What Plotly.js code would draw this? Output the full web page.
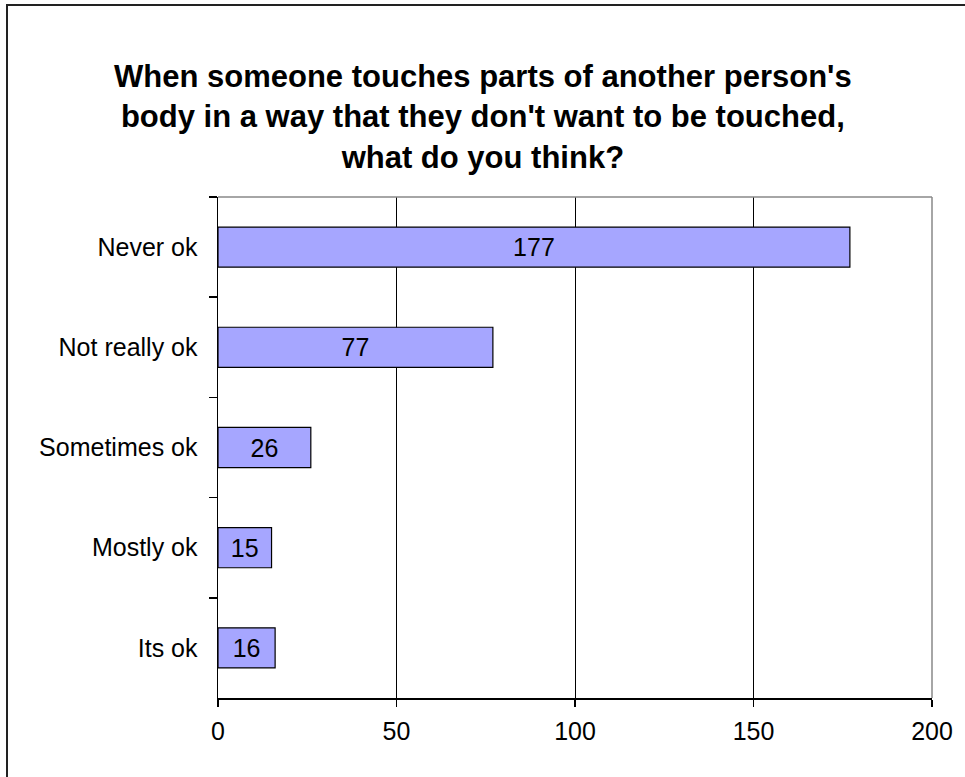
<!DOCTYPE html>
<html>
<head>
<meta charset="utf-8">
<script src="https://cdn.plot.ly/plotly-3.0.1.min.js"></script>
<style>
  html, body { margin: 0; padding: 0; background: #fff; }
  #wrap { position: relative; width: 965px; height: 777px; overflow: hidden; }
  #chart { width: 965px; height: 777px; }
  #frame { position: absolute; left: 6px; top: 4px; width: 1000px; height: 1000px;
           border-left: 2px solid #222; border-top: 2px solid #222; pointer-events: none; }
</style>
</head>
<body>
<div id="wrap">
  <div id="chart"></div>
  <div id="frame"></div>
</div>
<script>
const categories = ["Never ok", "Not really ok", "Sometimes ok", "Mostly ok", "Its ok"];
const counts = [177, 77, 26, 15, 16];
const xTicks = [0, 50, 100, 150, 200];
const titleText = "When someone touches parts of another person's<br>body in a way that they don't want to be touched,<br>what do you think?";

const trace = {
  type: 'bar',
  orientation: 'h',
  y: categories,
  x: counts,
  text: counts.map(String),
  textposition: 'inside',
  insidetextanchor: 'middle',
  constraintext: 'none',
  textfont: { family: 'Liberation Sans, Arial, sans-serif', size: 25, color: '#000' },
  marker: { color: '#a6a6ff', line: { color: '#000', width: 1.2 } },
  hoverinfo: 'none'
};

const layout = {
  width: 965, height: 777,
  margin: { l: 218, r: 33, t: 197, b: 79 },
  paper_bgcolor: '#fff',
  plot_bgcolor: '#fff',
  bargap: 0.6,
  showlegend: false,
  font: { family: 'Liberation Sans, Arial, sans-serif', size: 25, color: '#000' },
  annotations: [{
    text: titleText,
    showarrow: false,
    xref: 'paper', yref: 'paper',
    x: (482.5 - 218) / 714, xanchor: 'center',
    y: (698 - 117) / 501, yanchor: 'middle',
    align: 'center',
    font: { family: 'Liberation Sans, Arial, sans-serif', size: 31, color: '#000', weight: 'bold' }
  }],
  xaxis: {
    range: [0, 200],
    tickvals: xTicks,
    ticktext: xTicks.map(String),
    showgrid: true, gridcolor: '#000', gridwidth: 1,
    zeroline: false,
    showline: true, linecolor: '#000', linewidth: 1.5,
    ticks: 'outside', ticklen: 7, tickcolor: '#000', tickwidth: 1.5,
    tickfont: { size: 25 },
    ticklabelstandoff: 3,
    fixedrange: true
  },
  yaxis: {
    type: 'category',
    categoryorder: 'array',
    categoryarray: categories,
    autorange: 'reversed',
    showgrid: false,
    zeroline: false,
    showline: true, linecolor: '#000', linewidth: 1.5,
    ticks: 'outside', tickson: 'boundaries', ticklen: 8, tickcolor: '#000', tickwidth: 1.5,
    tickfont: { size: 25 },
    ticklabelstandoff: 14,
    fixedrange: true
  },
  shapes: [
    { type: 'line', xref: 'paper', yref: 'paper', x0: 0, x1: 1, y0: 1, y1: 1, line: { color: '#888', width: 1.5 } },
    { type: 'line', xref: 'paper', yref: 'paper', x0: 1, x1: 1, y0: 0, y1: 1, line: { color: '#888', width: 1.5 } }
  ]
};

Plotly.newPlot('chart', [trace], layout, { displayModeBar: false, staticPlot: true });
</script>
</body>
</html>
